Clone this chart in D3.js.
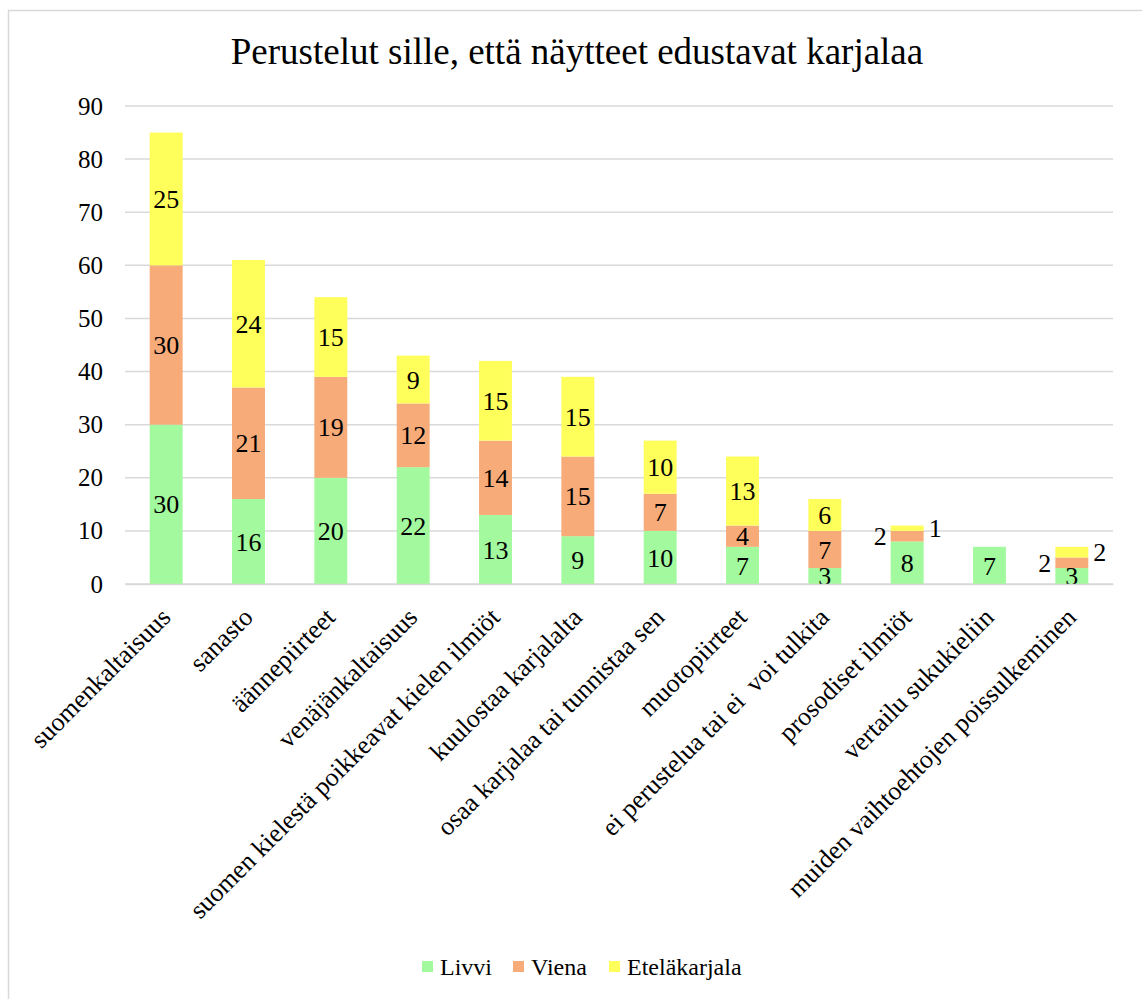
<!DOCTYPE html>
<html>
<head>
<meta charset="utf-8">
<script src="https://cdn.jsdelivr.net/npm/d3@7"></script>
<style>
  html, body { margin: 0; padding: 0; background: #fff; }
  svg { display: block; font-family: "Liberation Serif", "Times New Roman", serif; }
  .tick text { white-space: pre; }
</style>
</head>
<body>
<svg id="chart" width="1142" height="999"></svg>
<script>
const categories = [
  "suomenkaltaisuus",
  "sanasto",
  "äännepiirteet",
  "venäjänkaltaisuus",
  "suomen kielestä poikkeavat kielen ilmiöt",
  "kuulostaa karjalalta",
  "osaa karjalaa tai tunnistaa sen",
  "muotopiirteet",
  "ei perustelua tai ei  voi tulkita",
  "prosodiset ilmiöt",
  "vertailu sukukieliin",
  "muiden vaihtoehtojen poissulkeminen"
];
const seriesNames = ["Livvi", "Viena", "Eteläkarjala"];
const livvi = [30, 16, 20, 22, 13, 9, 10, 7, 3, 8, 7, 3];
const viena = [30, 21, 19, 12, 14, 15, 7, 4, 7, 2, 0, 2];
const etelakarjala = [25, 24, 15, 9, 15, 15, 10, 13, 6, 1, 0, 2];
const yTicks = [0, 10, 20, 30, 40, 50, 60, 70, 80, 90];
const colors = ["#a3f99d", "#f6ab79", "#ffff5b"];
const title = "Perustelut sille, että näytteet edustavat karjalaa";

const svg = d3.select("#chart");
const FONT = "'Liberation Serif', 'Times New Roman', serif";

// outer border
svg.append("rect").attr("x", 8.5).attr("y", 10.5).attr("width", 1150).attr("height", 1000)
  .attr("fill", "#fff").attr("stroke", "#d9d9d9").attr("stroke-width", 1.5);

const x = d3.scaleBand().domain(categories).range([125, 1113]).paddingInner(0.6).paddingOuter(0.3);
const y = d3.scaleLinear().domain([0, 90]).range([584, 106]);

// gridlines
svg.append("g").selectAll("line").data(yTicks).join("line")
  .attr("x1", 125).attr("x2", 1113)
  .attr("y1", d => y(d)).attr("y2", d => y(d))
  .attr("stroke", "#d9d9d9").attr("stroke-width", 1.5);

// y axis labels
const yAxis = d3.axisLeft(y).tickValues(yTicks).tickSize(0).tickPadding(0);
const gy = svg.append("g").attr("transform", "translate(103,0)").call(yAxis);
gy.attr("font-family", FONT);
gy.select(".domain").remove();
gy.selectAll("text").attr("font-family", FONT).attr("font-size", 25).attr("fill", "#000");

// stack
const rows = categories.map((c, i) => ({ cat: c, Livvi: livvi[i], Viena: viena[i], "Eteläkarjala": etelakarjala[i] }));
const stack = d3.stack().keys(seriesNames)(rows);

const layers = svg.append("g").selectAll("g").data(stack).join("g")
  .attr("fill", (d, i) => colors[i]);
layers.selectAll("rect").data(d => d).join("rect")
  .attr("x", d => x(d.data.cat))
  .attr("width", x.bandwidth())
  .attr("y", d => y(d[1]))
  .attr("height", d => y(d[0]) - y(d[1]));

// data labels
const labelG = svg.append("g").attr("font-size", 26).attr("fill", "#000").attr("font-family", FONT);
stack.forEach((layer, si) => {
  layer.forEach(d => {
    const v = d[1] - d[0];
    if (v <= 0) return;
    const cx = x(d.data.cat) + x.bandwidth() / 2;
    const cy = y((d[0] + d[1]) / 2);
    let tx = cx, anchor = "middle";
    if (v <= 2 && si === 1) { tx = x(d.data.cat) - 4; anchor = "end"; }
    if (v <= 2 && si === 2) { tx = x(d.data.cat) + x.bandwidth() + 5; anchor = "start"; }
    labelG.append("text")
      .attr("x", tx).attr("y", cy).attr("dy", "0.35em")
      .attr("text-anchor", anchor)
      .text(v);
  });
});

// x axis
const xAxis = d3.axisBottom(x).tickSize(0).tickPadding(0);
const gx = svg.append("g").attr("transform", "translate(0,584)").call(xAxis);
gx.attr("font-family", FONT);
gx.select(".domain").attr("stroke", "#d9d9d9").attr("stroke-width", 1.5);
gx.selectAll(".tick text")
  .attr("font-family", FONT).attr("font-size", 26).attr("fill", "#000")
  .attr("text-anchor", "end")
  .attr("transform", "translate(-7,22) rotate(-45)")
  .attr("x", 0).attr("y", 0).attr("dy", "0.7em");

// title
svg.append("text").attr("x", 577).attr("y", 64).attr("text-anchor", "middle")
  .attr("font-family", FONT).attr("font-size", 37).attr("fill", "#000").text(title);

// legend
const legendX = [422, 513, 609];
const lg = svg.append("g").attr("font-family", FONT);
seriesNames.forEach((n, i) => {
  lg.append("rect").attr("x", legendX[i]).attr("y", 961).attr("width", 11).attr("height", 11).attr("fill", colors[i]);
  lg.append("text").attr("x", legendX[i] + 18).attr("y", 975).attr("font-family", FONT)
    .attr("font-size", 24).attr("fill", "#000").text(n);
});
</script>
</body>
</html>
